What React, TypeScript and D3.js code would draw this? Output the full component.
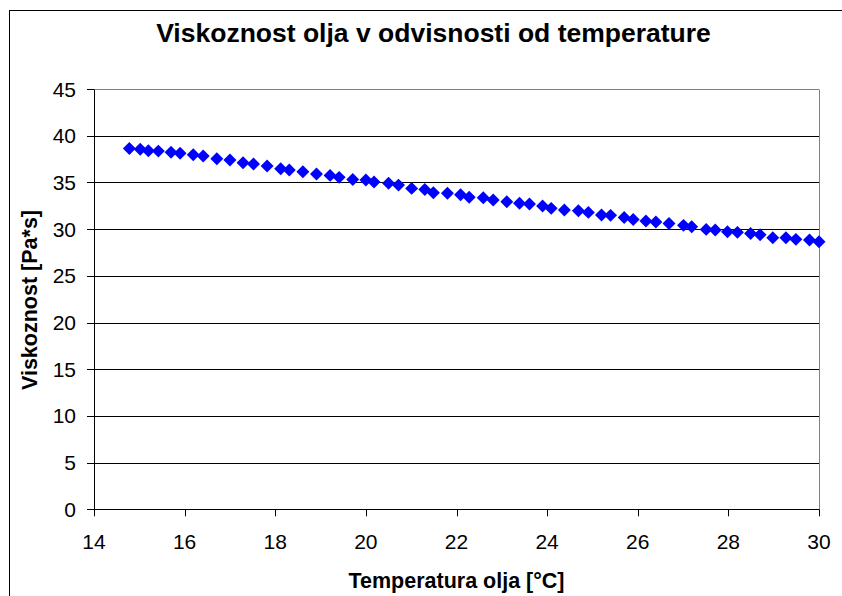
import React from "react";
import * as d3 from "d3";

const temperature = [
  14.78, 15.02, 15.2, 15.42, 15.7, 15.9, 16.19, 16.41, 16.71, 17.0,
  17.29, 17.52, 17.82, 18.12, 18.31, 18.61, 18.91, 19.21, 19.41, 19.71,
  20.0, 20.18, 20.5, 20.72, 21.01, 21.3, 21.49, 21.8, 22.09, 22.28,
  22.59, 22.81, 23.11, 23.39, 23.61, 23.9, 24.09, 24.38, 24.69, 24.91,
  25.2, 25.4, 25.7, 25.9, 26.18, 26.4, 26.69, 27.01, 27.19, 27.51,
  27.71, 27.98, 28.2, 28.49, 28.7, 28.98, 29.27, 29.49, 29.79, 30.0,
];
const viscosity = [
  38.64, 38.54, 38.39, 38.35, 38.22, 38.11, 37.96, 37.82, 37.53, 37.39,
  37.1, 36.96, 36.75, 36.46, 36.32, 36.14, 35.89, 35.75, 35.54, 35.32,
  35.25, 35.04, 34.9, 34.71, 34.36, 34.25, 33.89, 33.83, 33.68, 33.4,
  33.35, 33.11, 32.93, 32.76, 32.68, 32.47, 32.22, 32.04, 31.96, 31.79,
  31.5, 31.47, 31.24, 31.02, 30.86, 30.75, 30.59, 30.4, 30.25, 29.97,
  29.9, 29.72, 29.65, 29.54, 29.39, 29.08, 29.08, 28.9, 28.83, 28.65,
];
const xTicks = [14, 16, 18, 20, 22, 24, 26, 28, 30];
const yTicks = [0, 5, 10, 15, 20, 25, 30, 35, 40, 45];
const title = "Viskoznost olja v odvisnosti od temperature";
const xTitle = "Temperatura olja [°C]";
const yTitle = "Viskoznost [Pa*s]";

const W = 842;
const H = 596;
const plot = { left: 94, right: 819, top: 89, bottom: 509.3 };
const font = "'Liberation Sans', Arial, sans-serif";

export default function App() {
  const x = d3.scaleLinear().domain([14, 30]).range([plot.left, plot.right]);
  const y = d3.scaleLinear().domain([0, 45]).range([plot.bottom, plot.top]);
  const diamond = d3.symbol().type(d3.symbolSquare).size(84)();
  const pts = temperature.map((t, i) => ({ t, v: viscosity[i] }));

  return (
    <svg
      width={W}
      height={H}
      style={{ position: "absolute", left: 0, top: 0, background: "#fff" }}
      fontFamily={font}
    >
      <rect x={0} y={0} width={W} height={H} fill="#fff" />
      <rect x={9.5} y={10.5} width={900} height={700} fill="#fff" stroke="#000" strokeWidth={1} />
      <text x={433.5} y={41.5} textAnchor="middle" fontSize={26.5} fontWeight="bold" fill="#000">
        {title}
      </text>
      {yTicks.map((t) => (
        <line
          key={"g" + t}
          x1={plot.left}
          x2={plot.right}
          y1={Math.round(y(t)) + 0.5}
          y2={Math.round(y(t)) + 0.5}
          stroke={t === 45 ? "#808080" : "#000"}
          strokeWidth={1}
        />
      ))}
      <line
        x1={Math.round(plot.right) + 0.5}
        x2={Math.round(plot.right) + 0.5}
        y1={Math.round(plot.top) + 0.5}
        y2={Math.round(plot.bottom) + 0.5}
        stroke="#808080"
      />
      <line
        x1={plot.left + 0.5}
        x2={plot.left + 0.5}
        y1={Math.round(plot.top) + 0.5}
        y2={Math.round(plot.bottom) + 0.5}
        stroke="#000"
      />
      {yTicks.map((t) => (
        <g key={"y" + t}>
          <line
            x1={plot.left - 7}
            x2={plot.left}
            y1={Math.round(y(t)) + 0.5}
            y2={Math.round(y(t)) + 0.5}
            stroke="#000"
          />
          <text x={76} y={y(t) + 7.5} textAnchor="end" fontSize={21} fill="#000">
            {t}
          </text>
        </g>
      ))}
      <line
        x1={plot.left}
        x2={plot.right}
        y1={Math.round(plot.bottom) + 0.5}
        y2={Math.round(plot.bottom) + 0.5}
        stroke="#000"
      />
      {xTicks.map((t) => (
        <g key={"x" + t}>
          <line
            x1={Math.round(x(t)) + 0.5}
            x2={Math.round(x(t)) + 0.5}
            y1={plot.bottom}
            y2={plot.bottom + 7}
            stroke="#000"
          />
          <text x={x(t)} y={549} textAnchor="middle" fontSize={21} fill="#000">
            {t}
          </text>
        </g>
      ))}
      <text x={456.5} y={588} textAnchor="middle" fontSize={21.5} fontWeight="bold" fill="#000">
        {xTitle}
      </text>
      <text
        transform={`translate(36.5,300) rotate(-90)`}
        textAnchor="middle"
        fontSize={21.5}
        fontWeight="bold"
        fill="#000"
      >
        {yTitle}
      </text>
      {pts.map((p, i) => (
        <path
          key={i}
          d={diamond as string}
          transform={`translate(${x(p.t)},${y(p.v)}) rotate(45)`}
          fill="#0000FF"
        />
      ))}
    </svg>
  );
}
